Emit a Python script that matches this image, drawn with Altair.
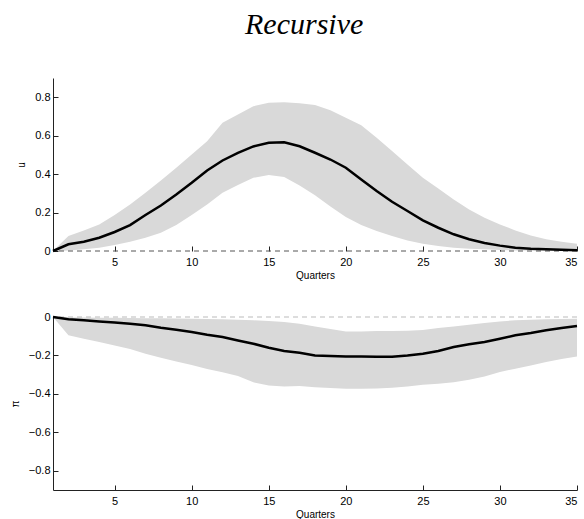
import altair as alt
import pandas as pd

quarters = list(range(1, 36))
x_ticks = [5, 10, 15, 20, 25, 30, 35]

u_med = [0, 0.035, 0.048, 0.069, 0.099, 0.135, 0.187, 0.237, 0.294, 0.355, 0.419, 0.471,
         0.511, 0.544, 0.563, 0.566, 0.545, 0.511, 0.476, 0.433, 0.372, 0.312, 0.256, 0.208,
         0.159, 0.121, 0.087, 0.061, 0.042, 0.028, 0.017, 0.012, 0.009, 0.006, 0.004]
u_hi = [0, 0.078, 0.107, 0.138, 0.187, 0.242, 0.303, 0.367, 0.433, 0.502, 0.571, 0.667,
        0.710, 0.753, 0.771, 0.774, 0.768, 0.760, 0.732, 0.693, 0.654, 0.589, 0.520, 0.450,
        0.381, 0.325, 0.268, 0.216, 0.173, 0.138, 0.107, 0.081, 0.061, 0.048, 0.038]
u_lo = [0, 0.003, 0.009, 0.017, 0.031, 0.048, 0.069, 0.095, 0.135, 0.187, 0.242, 0.303,
        0.343, 0.381, 0.395, 0.385, 0.341, 0.290, 0.232, 0.177, 0.135, 0.104, 0.078, 0.055,
        0.038, 0.026, 0.017, 0.012, 0.009, 0.005, 0.003, 0.003, 0.003, 0.003, 0.003]
u_ticks = [0, 0.2, 0.4, 0.6, 0.8]

pi_med = [0, -0.012, -0.017, -0.023, -0.028, -0.035, -0.043, -0.056, -0.066, -0.078, -0.092,
          -0.104, -0.122, -0.139, -0.160, -0.177, -0.186, -0.200, -0.203, -0.205, -0.205,
          -0.207, -0.207, -0.200, -0.191, -0.177, -0.156, -0.142, -0.130, -0.113, -0.095,
          -0.083, -0.069, -0.057, -0.047]
pi_hi = [0, -0.002, -0.003, -0.004, -0.004, -0.005, -0.006, -0.007, -0.008, -0.009, -0.010,
         -0.012, -0.014, -0.017, -0.021, -0.026, -0.035, -0.049, -0.063, -0.075, -0.075,
         -0.073, -0.073, -0.071, -0.068, -0.057, -0.049, -0.040, -0.031, -0.023, -0.017,
         -0.014, -0.012, -0.010, -0.009]
pi_lo = [0, -0.095, -0.113, -0.130, -0.148, -0.167, -0.191, -0.212, -0.231, -0.250, -0.271,
         -0.288, -0.307, -0.340, -0.356, -0.361, -0.359, -0.365, -0.370, -0.373, -0.373,
         -0.372, -0.368, -0.361, -0.352, -0.347, -0.339, -0.326, -0.309, -0.286, -0.269,
         -0.252, -0.234, -0.219, -0.205]
pi_ticks = [0, -0.2, -0.4, -0.6, -0.8]

W, H = 524, 173


def panel(med, lo, hi, ytitle, ydom, yvals, zero_color, show_xdomain):
    df = pd.DataFrame({"q": quarters, "med": med, "lo": lo, "hi": hi})
    zdf = pd.DataFrame({"z": [0]})
    xs = alt.Scale(domain=[1, 35], nice=False, zero=False)
    ys = alt.Scale(domain=ydom, nice=False, zero=False)
    band = alt.Chart(df).mark_area(color="#d9d9d9", opacity=1).encode(
        x=alt.X("q:Q", scale=xs,
                axis=alt.Axis(values=x_ticks, title="Quarters", tickSize=0, domain=show_xdomain,
                              labelPadding=5, titlePadding=3, grid=False)),
        y=alt.Y("lo:Q", scale=ys,
                axis=alt.Axis(values=yvals, title=ytitle, tickSize=0, labelPadding=3,
                              titlePadding=8, grid=False, format=".1~f")),
        y2="hi:Q",
    )
    zero = alt.Chart(zdf).mark_rule(color=zero_color, strokeDash=[5, 4], strokeWidth=1).encode(
        y=alt.Y("z:Q", scale=ys, axis=None)
    )
    line = alt.Chart(df).mark_line(color="black", strokeWidth=2.5).encode(
        x=alt.X("q:Q", scale=xs,
                axis=alt.Axis(orient="top", offset=-H, values=x_ticks, labels=False, domain=False,
                              title=None, tickSize=5, grid=False)),
        y=alt.Y("med:Q", scale=ys,
                axis=alt.Axis(orient="right", offset=-W, values=yvals, labels=False, domain=False,
                              title=None, tickSize=5, grid=False)),
    )
    return alt.layer(band, zero, line).resolve_axis(x="independent", y="independent").properties(
        width=W, height=H)


top = panel(u_med, u_lo, u_hi, "u", [0, 0.9], u_ticks, "#555555", False)
bottom = panel(pi_med, pi_lo, pi_hi, "π", [-0.9, 0], pi_ticks, "#bbbbbb", True)

chart = alt.vconcat(top, bottom, spacing=31).properties(
    title=alt.TitleParams("Recursive", font="Liberation Serif", fontStyle="italic", fontSize=30,
                          fontWeight="normal", anchor="middle", offset=38, dx=8, color="black"),
    padding={"left": 10, "top": 10, "right": 0, "bottom": 0},
).configure_view(stroke=None).configure_axis(
    labelFont="Liberation Sans", labelFontSize=11, labelColor="black",
    titleFont="Liberation Sans", titleFontSize=10, titleFontWeight="normal", titleColor="black",
    domainColor="#222222", tickColor="#222222",
)

chart.save("out.html", embed_options={"renderer": "svg", "actions": False})
